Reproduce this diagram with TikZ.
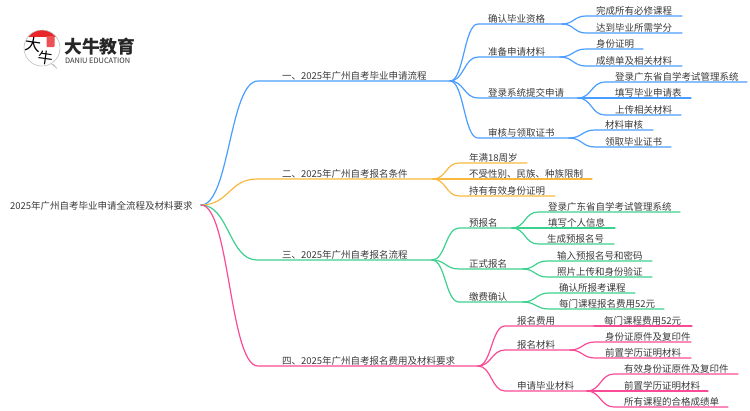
\documentclass[tikz,border=0pt]{standalone}
\usepackage{fontspec}
\setmainfont{Noto Sans CJK SC}
\usetikzlibrary{calc}
\definecolor{cblue}{HTML}{4A9EFF}
\definecolor{cyel}{HTML}{F9B93F}
\definecolor{cgrn}{HTML}{3DD08F}
\definecolor{cpnk}{HTML}{FB4B96}
\definecolor{ctxt}{HTML}{3A3A3A}
\definecolor{cred}{HTML}{E8262A}
\tikzset{
  lab/.style={inner xsep=0pt,inner ysep=1.8pt,outer sep=0pt,anchor=south west,text height=8pt,text depth=0pt,font=\fontsize{9.5}{11}\selectfont,text=ctxt},
  conline/.style={line width=1.2pt,line cap=round,line join=round},
}
% name, line start, line end, text start, line y, text
\newcommand{\lf}[6]{%
  \pgfmathsetlengthmacro{\lfw}{(#3)-(#2)}%
  \pgfmathsetlengthmacro{\lfo}{(#4)-(#2)}%
  \node[lab] (#1) at (#2,#5) {\makebox[\lfw][l]{\hspace{\lfo}#6}};}
% colour, from point, to node
\newcommand{\conn}[3]{%
  \coordinate (A) at (#2);
  \coordinate (B) at (#3.south west);
  \draw[conline,#1] (A) .. controls ($(A)!.5!(B|-A)$) and ($(B)!.5!(A|-B)$) .. (B) -- (#3.south east);}
\begin{document}
\begin{tikzpicture}[x=1pt,y=-1pt]
\useasboundingbox (0,0) rectangle (750,410);
% logo
\fill[white] (0,0) rectangle (750,410);
\coordinate (lc) at (42,48);
\begin{scope}
\clip (24,30) rectangle (60,36);
\fill[cred] (lc) circle (18);
\end{scope}
\draw[black!25,line width=.6pt,fill=none] (51,63.6) arc[start angle=60,end angle=-300,radius=18] -- cycle;
\draw[black!25,line width=.6pt] (51,63.6) -- (57,68.5) -- (53,64);
\fill[cred!80!white,rounded corners=1pt] (46.5,36) rectangle (54.5,47);
\node[inner sep=0pt,text=black,rotate=-8,font=\fontsize{16}{16}\selectfont] (logoa) at (33.5,45) {大};
\node[inner sep=0pt,text=black,rotate=-8,font=\fontsize{15}{16}\selectfont] (logob) at (45.5,58) {牛};
\node[inner sep=0pt,anchor=west,text=black!85,font=\fontsize{17.8}{18}\bfseries\selectfont] (logoc) at (64,47) {大牛教育};
\node[inner sep=0pt,anchor=west,text=black!80,font=\fontsize{7.4}{8}\selectfont] (logod) at (65,60.5) {DANIU EDUCATION};
% root
\node[lab,anchor=west,inner ysep=0pt] (root) at (10,205) {\makebox[191pt][l]{2025年广州自考毕业申请全流程及材料要求}};
% level 1
\lf{a}{258}{450}{282}{81}{一、2025年广州自考毕业申请流程}
\lf{b}{257}{433}{282}{179}{二、2025年广州自考报名条件}
\lf{c}{257}{432}{282}{260}{三、2025年广州自考报名流程}
\lf{d}{258}{478}{282}{366}{四、2025年广州自考报名费用及材料要求}
% blue
\lf{a1}{478}{562}{488}{24}{确认毕业资格}
\lf{a2}{478}{560}{488}{57}{准备申请材料}
\lf{a3}{478}{578}{488}{98}{登录系统提交申请}
\lf{a4}{478}{569}{488}{138}{审核与领取证书}
\lf{a11}{586}{682}{596}{16}{完成所有必修课程}
\lf{a12}{586}{682}{596}{33}{达到毕业所需学分}
\lf{a21}{586}{643}{596}{49}{身份证明}
\lf{a22}{586}{682}{596}{66}{成绩单及相关材料}
\lf{a31}{605}{747}{615}{82}{登录广东省自学考试管理系统}
\lf{a32}{605}{691}{615}{98}{填写毕业申请表}
\lf{a33}{605}{681}{615}{115}{上传相关材料}
\lf{a41}{595}{653}{605}{130}{材料审核}
\lf{a42}{595}{671}{605}{147}{领取毕业证书}
% yellow
\lf{b1}{459}{527}{469}{163}{年满18周岁}
\lf{b2}{459}{592}{469}{179}{不受性别、民族、种族限制}
\lf{b3}{459}{555}{469}{196}{持有有效身份证明}
% green
\lf{c1}{459}{512}{469}{228}{预报名}
\lf{c2}{459}{523}{469}{269}{正式报名}
\lf{c3}{459}{523}{469}{302}{缴费确认}
\lf{c11}{538}{680}{548}{212}{登录广东省自学考试管理系统}
\lf{c12}{538}{615}{548}{228}{填写个人信息}
\lf{c13}{538}{614}{547}{244}{生成预报名号}
\lf{c21}{547}{652}{557}{261}{输入预报名号和密码}
\lf{c22}{547}{652}{557}{277}{照片上传和身份验证}
\lf{c31}{549}{635}{559}{293}{确认所报考课程}
\lf{c32}{549}{664}{559}{309}{每门课程报名费用52元}
% pink
\lf{d1}{505}{594}{517}{326}{报名费用}
\lf{d2}{505}{570}{517}{350}{报名材料}
\lf{d3}{505}{587}{517}{391}{申请毕业材料}
\lf{d11}{594}{692}{604}{326}{每门课程费用52元}
\lf{d21}{595}{691}{605}{342}{身份证原件及复印件}
\lf{d22}{595}{691}{605}{358}{前置学历证明材料}
\lf{d31}{614}{738}{624}{374}{有效身份证原件及复印件}
\lf{d32}{614}{708}{624}{391}{前置学历证明材料}
\lf{d33}{614}{728}{624}{407}{所有课程的合格成绩单}
% connectors
\conn{cblue}{root.east}{a}
\foreach \n in {a1,a2,a3,a4}{\conn{cblue}{a.south east}{\n}}
\foreach \n in {a11,a12}{\conn{cblue}{a1.south east}{\n}}
\foreach \n in {a21,a22}{\conn{cblue}{a2.south east}{\n}}
\foreach \n in {a31,a32,a33}{\conn{cblue}{a3.south east}{\n}}
\foreach \n in {a41,a42}{\conn{cblue}{a4.south east}{\n}}
\conn{cyel}{root.east}{b}
\foreach \n in {b1,b2,b3}{\conn{cyel}{b.south east}{\n}}
\conn{cgrn}{root.east}{c}
\foreach \n in {c1,c2,c3}{\conn{cgrn}{c.south east}{\n}}
\foreach \n in {c11,c12,c13}{\conn{cgrn}{c1.south east}{\n}}
\foreach \n in {c21,c22}{\conn{cgrn}{c2.south east}{\n}}
\foreach \n in {c31,c32}{\conn{cgrn}{c3.south east}{\n}}
\conn{cpnk}{root.east}{d}
\foreach \n in {d1,d2,d3}{\conn{cpnk}{d.south east}{\n}}
\conn{cpnk}{d1.south east}{d11}
\foreach \n in {d21,d22}{\conn{cpnk}{d2.south east}{\n}}
\foreach \n in {d31,d32,d33}{\conn{cpnk}{d3.south east}{\n}}
\end{tikzpicture}
\end{document}
